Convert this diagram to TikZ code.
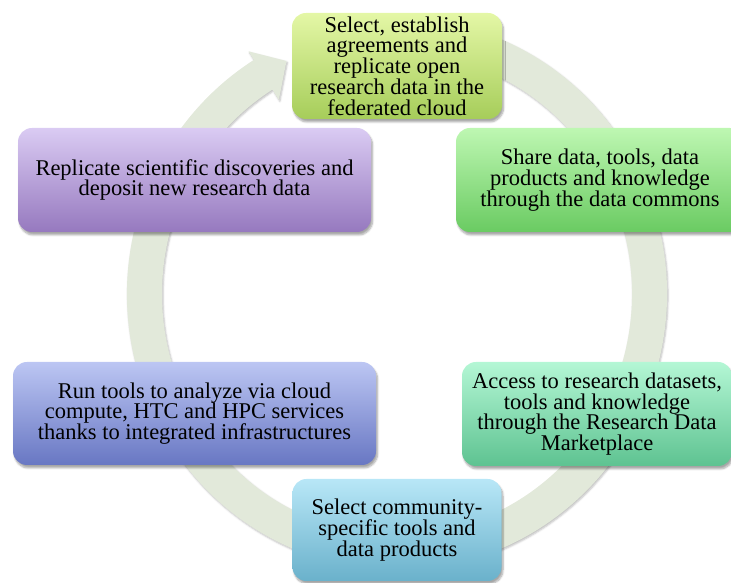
\documentclass[tikz,border=0pt]{standalone}
\usepackage{fontspec}
\setmainfont{Liberation Serif}
\usetikzlibrary{shadows.blur}

\definecolor{ringgrey}{RGB}{226,233,218}
\definecolor{limeTop}{RGB}{228,247,166}
\definecolor{limeBot}{RGB}{166,205,90}
\definecolor{grassTop}{RGB}{190,247,178}
\definecolor{grassBot}{RGB}{106,203,98}
\definecolor{lilacTop}{RGB}{218,203,243}
\definecolor{lilacBot}{RGB}{150,121,191}
\definecolor{periTop}{RGB}{188,198,243}
\definecolor{periBot}{RGB}{104,119,195}
\definecolor{mintTop}{RGB}{180,247,213}
\definecolor{mintBot}{RGB}{94,195,145}
\definecolor{skyTop}{RGB}{184,231,247}
\definecolor{skyBot}{RGB}{106,177,203}

\begin{document}
\begin{tikzpicture}[
    x=1pt, y=1pt,
    font=\fontsize{22.5}{20.8}\selectfont,
    card/.style={rounded corners=14pt, align=center, inner sep=0pt,
      blur shadow={shadow xshift=1.5pt, shadow yshift=-3pt, shadow blur steps=6, shadow opacity=35}},
    lime/.style={card, top color=limeTop, bottom color=limeBot},
    grass/.style={card, top color=grassTop, bottom color=grassBot},
    lilac/.style={card, top color=lilacTop, bottom color=lilacBot},
    peri/.style={card, top color=periTop, bottom color=periBot},
    mint/.style={card, top color=mintTop, bottom color=mintBot},
    sky/.style={card, top color=skyTop, bottom color=skyBot},
  ]
    \useasboundingbox (0,0) rectangle (731,583);

    % ---------- circular arrow behind the steps ----------
    \fill[ringgrey, blur shadow={shadow xshift=1pt, shadow yshift=-1.5pt, shadow blur steps=4, shadow opacity=25}]
      (397,289) ++(75:270 and 276)
      arc[start angle=75, end angle=-238, x radius=270, y radius=276]
      -- (248.6,531.6) -- (286.5,522.0) -- (278.9,483.2)
      -- (272.5,493.4)
      arc[start angle=-238, end angle=75, x radius=235, y radius=241]
      -- cycle;

    % ---------- steps ----------
    \node[lime, minimum width=210, minimum height=106] (agree) at (397,517)
      {Select, establish\\agreements and\\replicate open\\research data in the\\federated cloud};
    \node[grass, minimum width=288, minimum height=104] (share) at (600,403)
      {Share data, tools, data\\products and knowledge\\through the data commons};
    \node[mint, minimum width=270, minimum height=104] (access) at (597,169)
      {Access to research datasets,\\tools and knowledge\\through the Research Data\\Marketplace};
    \node[sky, minimum width=209, minimum height=102] (select) at (397,53)
      {Select community-\\specific tools and\\data products};
    \node[peri, minimum width=363, minimum height=103] (run) at (194.5,169.5)
      {Run tools to analyze via cloud\\compute, HTC and HPC services\\thanks to integrated infrastructures};
    \node[lilac, minimum width=353, minimum height=104] (deposit) at (194.5,403)
      {Replicate scientific discoveries and\\deposit new research data};
  \end{tikzpicture}
\end{document}
